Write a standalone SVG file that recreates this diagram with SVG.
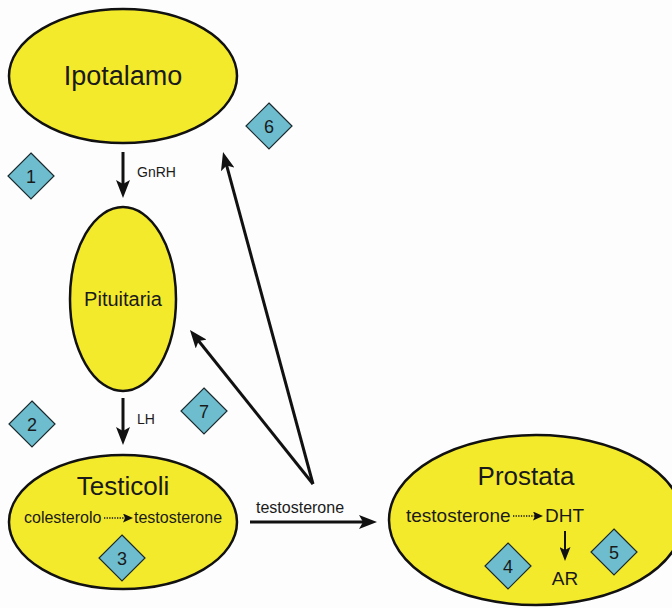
<svg xmlns="http://www.w3.org/2000/svg" width="672" height="608" viewBox="0 0 672 608">
<defs>
<style>
.organ{fill:#f4ea2c;stroke:#111;stroke-width:2.5}
.dia{fill:#6dbdcf;stroke:#1c2a2e;stroke-width:1.2}
.t{font-family:"Liberation Sans",Arial,sans-serif;fill:#1a1a1a;text-anchor:middle}
.tl{font-family:"Liberation Sans",Arial,sans-serif;fill:#1a1a1a}
.arr{stroke:#111;stroke-width:3;fill:none;marker-end:url(#ah)}
.dot{stroke:#111;stroke-width:1.6;stroke-dasharray:1.3 1.3;fill:none;marker-end:url(#ahs)}
</style>
<marker id="ah" viewBox="0 0 18 14" refX="12" refY="7" markerWidth="18" markerHeight="14" markerUnits="userSpaceOnUse" orient="auto">
<path d="M0,0 L18,7 L0,14 L4,7 Z" fill="#111"/>
</marker>
<marker id="ahm" viewBox="0 0 14 11" refX="9" refY="5.5" markerWidth="14" markerHeight="11" markerUnits="userSpaceOnUse" orient="auto">
<path d="M0,0 L14,5.5 L0,11 L3,5.5 Z" fill="#111"/>
</marker>
<marker id="ahs" viewBox="0 0 10 9" refX="2" refY="4.5" markerWidth="10" markerHeight="9" markerUnits="userSpaceOnUse" orient="auto">
<path d="M0,0 L10,4.5 L0,9 L2,4.5 Z" fill="#111"/>
</marker>
</defs>
<rect width="672" height="608" fill="#fdfdfd"/>
<g id="connectors">
<line class="arr" x1="123" y1="152" x2="123" y2="192"/>
<text class="tl" x="137" y="177" font-size="14">GnRH</text>
<line class="arr" x1="123" y1="398" x2="123" y2="439"/>
<text class="tl" x="137" y="424" font-size="14">LH</text>
<line class="arr" x1="250" y1="522" x2="371" y2="522"/>
<text class="tl" x="256" y="513" font-size="16">testosterone</text>
<line class="arr" x1="313" y1="484" x2="224.6" y2="157.8"/>
<line class="arr" x1="313" y1="484" x2="193.7" y2="334.7"/>
</g>
<g id="ipotalamo">
<ellipse class="organ" cx="123" cy="76" rx="114" ry="67"/>
<text class="t" x="123" y="85" font-size="27">Ipotalamo</text>
</g>
<g id="pituitaria">
<ellipse class="organ" cx="123" cy="299" rx="53" ry="92"/>
<text class="t" x="123" y="306" font-size="20">Pituitaria</text>
</g>
<g id="testicoli">
<ellipse class="organ" cx="123" cy="522" rx="114" ry="67"/>
<text class="t" x="123" y="495" font-size="26">Testicoli</text>
<text class="tl" x="24" y="523" font-size="16">colesterolo</text>
<line class="dot" x1="104" y1="518" x2="125" y2="518"/>
<text class="tl" x="134" y="523" font-size="16">testosterone</text>
</g>
<g id="prostata">
<ellipse class="organ" cx="536" cy="520" rx="147" ry="85"/>
<text class="t" x="526" y="485" font-size="26">Prostata</text>
<text class="tl" x="406" y="522" font-size="19">testosterone</text>
<line class="dot" x1="513" y1="516" x2="535" y2="516"/>
<text class="tl" x="545" y="522" font-size="19">DHT</text>
<line x1="565" y1="531" x2="565" y2="556" stroke="#111" stroke-width="2" marker-end="url(#ahm)"/>
<text class="t" x="565" y="585" font-size="19">AR</text>
</g>
<g id="d1"><path class="dia" d="M31,153 L54,176 L31,199 L8,176 Z"/><text class="t" x="31" y="182.5" font-size="18">1</text></g>
<g id="d2"><path class="dia" d="M32,401 L55,424 L32,447 L9,424 Z"/><text class="t" x="32" y="430.5" font-size="18">2</text></g>
<g id="d3"><path class="dia" d="M122,535 L145,558 L122,581 L99,558 Z"/><text class="t" x="122" y="564.5" font-size="18">3</text></g>
<g id="d4"><path class="dia" d="M508,543 L531,566 L508,589 L485,566 Z"/><text class="t" x="508" y="572.5" font-size="18">4</text></g>
<g id="d5"><path class="dia" d="M614,529 L637,552 L614,575 L591,552 Z"/><text class="t" x="614" y="558.5" font-size="18">5</text></g>
<g id="d6"><path class="dia" d="M269,103 L292,126 L269,149 L246,126 Z"/><text class="t" x="269" y="132.5" font-size="18">6</text></g>
<g id="d7"><path class="dia" d="M204,388 L227,411 L204,434 L181,411 Z"/><text class="t" x="204" y="417.5" font-size="18">7</text></g>
</svg>
